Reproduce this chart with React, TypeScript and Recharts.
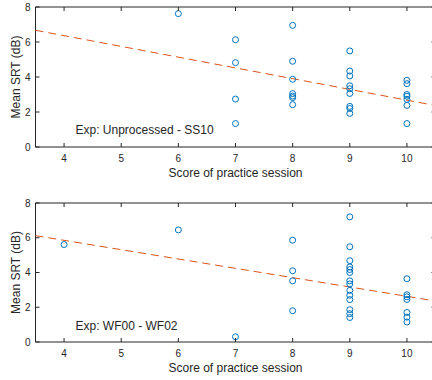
import React from 'react';
import { ScatterChart, Scatter, XAxis, YAxis, ReferenceArea, ReferenceDot } from 'recharts';

// Top panel: Exp: Unprocessed - SS10
const topScores = [6, 7, 7, 7, 7, 8, 8, 8, 8, 8, 8, 8, 9, 9, 9, 9, 9, 9, 9, 9, 9, 10, 10, 10, 10, 10, 10, 10];
const topSRT = [7.62, 6.13, 4.82, 2.74, 1.34, 6.95, 4.9, 3.87, 3.05, 2.91, 2.82, 2.42, 5.49, 4.34, 4.06, 3.5, 3.33, 3.06, 2.32, 2.2, 1.92, 3.81, 3.62, 3.0, 2.9, 2.72, 2.38, 1.34];
const topFitX = [3.5, 10.5];
const topFitY = [6.67, 2.37];

// Bottom panel: Exp: WF00 - WF02
const botScores = [4, 6, 7, 8, 8, 8, 8, 9, 9, 9, 9, 9, 9, 9, 9, 9, 9, 9, 9, 9, 9, 10, 10, 10, 10, 10, 10, 10];
const botSRT = [5.61, 6.45, 0.3, 5.86, 4.1, 3.52, 1.8, 7.2, 5.48, 4.68, 4.32, 4.17, 4.0, 3.52, 3.34, 2.97, 2.69, 2.44, 1.86, 1.63, 1.41, 3.64, 2.72, 2.6, 2.45, 1.7, 1.43, 1.15];
const botFitX = [3.5, 10.5];
const botFitY = [6.12, 2.36];

const xTicks = [4, 5, 6, 7, 8, 9, 10];
const yTicks = [0, 2, 4, 6, 8];
const xDomain = [3.5, 10.5];
const yDomain = [0, 8];

const titles = ['Exp: Unprocessed - SS10', 'Exp: WF00 - WF02'];
const xLabel = 'Score of practice session';
const yLabel = 'Mean SRT (dB)';

const toPoints = (xs: number[], ys: number[]) => xs.map((x, i) => ({ x, y: ys[i] }));

const FONT = '"Liberation Sans", Arial, Helvetica, sans-serif';
const INK = '#262626';
const BLUE = '#0072BD';
const ORANGE = '#D95319';
const PLOT_W = 400;
const TICK_LEN = 4;

const makeXTick = (plotH: number) => (props: any) => {
  const { x, y, payload } = props;
  return (
    <g>
      <line x1={x} x2={x} y1={y} y2={y - TICK_LEN} stroke={INK} strokeWidth={1} />
      <line x1={x} x2={x} y1={y - plotH} y2={y - plotH + TICK_LEN} stroke={INK} strokeWidth={1} />
      <text x={x} y={y + 15} textAnchor="middle" fontSize={10} fontFamily={FONT} fill={INK}>
        {payload.value}
      </text>
    </g>
  );
};

const YTick = (props: any) => {
  const { x, y, payload } = props;
  return (
    <g>
      <line x1={x} x2={x + TICK_LEN} y1={y} y2={y} stroke={INK} strokeWidth={1} />
      <line x1={x + PLOT_W} x2={x + PLOT_W - TICK_LEN} y1={y} y2={y} stroke={INK} strokeWidth={1} />
      <text x={x - 5} y={y + 3.6} textAnchor="end" fontSize={10} fontFamily={FONT} fill={INK}>
        {payload.value}
      </text>
    </g>
  );
};

const YLabel = (props: any) => {
  const { viewBox } = props;
  const cx = 19.5;
  const cy = viewBox.y + viewBox.height / 2;
  return (
    <text x={cx} y={cy} transform={`rotate(-90 ${cx} ${cy})`} textAnchor="middle" fontSize={12} fontFamily={FONT} fill={INK}>
      {yLabel}
    </text>
  );
};

const Circle = (props: any) => (
  <circle cx={props.cx} cy={props.cy} r={3} fill="none" stroke={BLUE} strokeWidth={1} />
);

const NoShape = () => <g />;

type PanelProps = {
  scores: number[];
  srt: number[];
  fitX: number[];
  fitY: number[];
  title: string;
  marginTop: number;
  plotH: number;
  labelOffset: number;
  titleY: number;
};

const Panel = ({ scores, srt, fitX, fitY, title, marginTop, plotH, labelOffset, titleY }: PanelProps) => {
  const xAxisH = 190 - marginTop - plotH;
  return (
    <ScatterChart width={450} height={190} margin={{ top: marginTop, right: 14.5, left: 0, bottom: 0 }}>
      <XAxis
        type="number"
        dataKey="x"
        domain={xDomain}
        ticks={xTicks}
        height={xAxisH}
        axisLine={false}
        tickLine={false}
        tickSize={0}
        tickMargin={0}
        tick={makeXTick(plotH)}
        interval={0}
        label={{ value: xLabel, position: 'insideBottom', offset: labelOffset, fontSize: 12, fontFamily: FONT, fill: INK }}
      />
      <YAxis
        type="number"
        dataKey="y"
        domain={yDomain}
        ticks={yTicks}
        width={35.5}
        axisLine={false}
        tickLine={false}
        tickSize={0}
        tickMargin={0}
        tick={YTick}
        interval={0}
        label={<YLabel />}
      />
      <ReferenceArea x1={xDomain[0]} x2={xDomain[1]} y1={yDomain[0]} y2={yDomain[1]} fill="none" stroke={INK} strokeWidth={1} />
      <Scatter
        data={toPoints(fitX, fitY)}
        line={{ stroke: ORANGE, strokeWidth: 1, strokeDasharray: '8 5' }}
        shape={NoShape}
        isAnimationActive={false}
      />
      <Scatter data={toPoints(scores, srt)} shape={Circle} isAnimationActive={false} />
      <ReferenceDot
        x={4.2}
        y={titleY}
        r={0}
        shape={(p: any) => (
          <text x={p.cx} y={p.cy} fontSize={12} fontFamily={FONT} fill={INK}>
            {title}
          </text>
        )}
      />
    </ScatterChart>
  );
};

export default function App() {
  return (
    <div style={{ position: 'absolute', left: 0, top: 0, width: 432, height: 380, overflow: 'hidden', background: '#fff' }}>
      <div style={{ position: 'absolute', left: 0, top: 0 }}>
        <Panel scores={topScores} srt={topSRT} fitX={topFitX} fitY={topFitY} title={titles[0]} marginTop={7} plotH={140} labelOffset={13} titleY={0.75} />
      </div>
      <div style={{ position: 'absolute', left: 0, top: 190 }}>
        <Panel scores={botScores} srt={botSRT} fitX={botFitX} fitY={botFitY} title={titles[1]} marginTop={13} plotH={139} labelOffset={8} titleY={0.71} />
      </div>
    </div>
  );
}
